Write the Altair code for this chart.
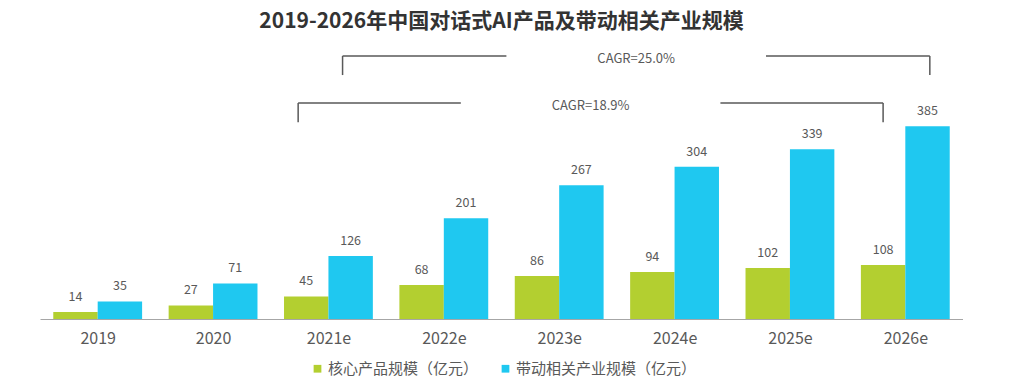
import altair as alt
import pandas as pd

years = ["2019", "2020", "2021e", "2022e", "2023e", "2024e", "2025e", "2026e"]
core = [14, 27, 45, 68, 86, 94, 102, 108]
related = [35, 71, 126, 201, 267, 304, 339, 385]
series = ["核心产品规模（亿元）", "带动相关产业规模（亿元）"]
colors = ["#B3CF30", "#1FC8F0"]
cagr_labels = ["CAGR=18.9%", "CAGR=25.0%"]
title = "2019-2026年中国对话式AI产品及带动相关产业规模"

FONT = "Noto Sans CJK SC"
TXT = "#595959"
BW = 0.385  # bar width in band units

rows = []
for i, y in enumerate(years):
    rows.append({"i": i, "series": series[0], "value": core[i], "x0": i - BW, "x1": i})
    rows.append({"i": i, "series": series[1], "value": related[i], "x0": i, "x1": i + BW})
bars_df = pd.DataFrame(rows)
bars_df["xc"] = (bars_df["x0"] + bars_df["x1"]) / 2
bars_df["base"] = 0

# CAGR brackets: from 2021e to 2026e for each series
seg_rows, lab_rows = [], []
levels = [431, 525]
drop = 38
gap = 1.125
for s in range(2):
    a, b = years.index("2021e"), years.index("2026e")
    off = -BW / 2 if s == 0 else BW / 2
    xa = a + off - 0.07
    xb = b + off + (0.02 if s == 1 else 0)
    top = levels[s]
    mid = (xa + xb) / 2
    seg_rows += [
        {"x": xa, "x2": xa, "y": top, "y2": top - drop},
        {"x": xb, "x2": xb, "y": top, "y2": top - drop},
        {"x": xa, "x2": mid - gap, "y": top, "y2": top},
        {"x": mid + gap, "x2": xb, "y": top, "y2": top},
    ]
    lab_rows.append({"x": mid, "y": top - 6, "label": cagr_labels[s]})
seg_df = pd.DataFrame(seg_rows)
lab_df = pd.DataFrame(lab_rows)

label_js = "[" + ",".join("'%s'" % y for y in years) + "][datum.value]"
xscale = alt.Scale(domain=[-0.5, 7.5], nice=False, zero=False)
yscale = alt.Scale(domain=[0, 547], nice=False)

bars = alt.Chart(bars_df).mark_bar().encode(
    x=alt.X("x0:Q", scale=xscale,
            axis=alt.Axis(values=list(range(len(years))), labelExpr=label_js, ticks=False,
                          grid=False, domainColor="#A6A6A6", domainWidth=1, title=None,
                          labelFont=FONT, labelFontSize=16, labelColor=TXT, labelPadding=11)),
    x2="x1:Q",
    y=alt.Y("value:Q", scale=yscale, axis=None),
    y2="base:Q",
    color=alt.Color("series:N", scale=alt.Scale(domain=series, range=colors),
                    legend=alt.Legend(title=None, orient="none", direction="horizontal",
                                      legendX=270, legendY=316, symbolType="square",
                                      symbolSize=60, labelFont=FONT, labelFontSize=15,
                                      labelColor=TXT, columnPadding=19, symbolOffset=0,
                                      labelOffset=3, labelLimit=0)),
)

vals = alt.Chart(bars_df).mark_text(baseline="bottom", dy=-8, font=FONT, fontSize=12.5, color=TXT).encode(
    x=alt.X("xc:Q", scale=xscale),
    y=alt.Y("value:Q", scale=yscale),
    text="value:Q",
)

segs = alt.Chart(seg_df).mark_rule(color="#595959", strokeWidth=1.5).encode(
    x=alt.X("x:Q", scale=xscale), x2="x2:Q",
    y=alt.Y("y:Q", scale=yscale), y2="y2:Q",
)

cagr = alt.Chart(lab_df).mark_text(font=FONT, fontSize=13, color=TXT, baseline="middle").encode(
    x=alt.X("x:Q", scale=xscale),
    y=alt.Y("y:Q", scale=yscale),
    text="label:N",
)

chart = alt.layer(bars, vals, segs, cagr).properties(
    width=923, height=274,
    title=alt.TitleParams(title, font=FONT, fontSize=21, fontWeight="bold", color="#333333",
                          anchor="middle", offset=13),
    padding={"left": 32, "top": 3, "right": 0, "bottom": 0},
).configure_view(stroke=None)

chart.save("out.html", embed_options={"renderer": "svg", "actions": False})
